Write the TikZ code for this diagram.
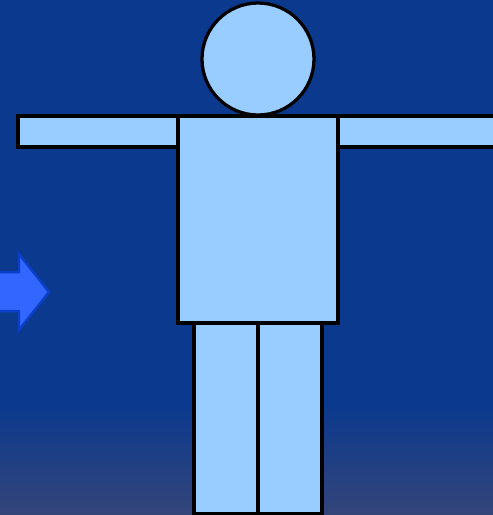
\documentclass[tikz,border=0pt]{standalone}
\begin{document}
\begin{tikzpicture}[x=0.02cm, y=-0.02cm]

\definecolor{backcolor}{RGB}{11, 57, 141}
\definecolor{floorcolor}{RGB}{52, 69, 122}
\definecolor{bodycolor}{RGB}{153, 204, 255}
\definecolor{arrowcolor}{RGB}{51, 102, 255}
\definecolor{arrowedge}{RGB}{10, 64, 200}

\tikzset{bodypart/.style={draw=black, fill=bodycolor, line width=0.065cm}}

\useasboundingbox (0, 0) rectangle (493, 515);

\fill[backcolor] (0, 0) rectangle (493, 405);
\shade[top color=backcolor, bottom color=floorcolor, shading angle=0] (0, 405) rectangle (493, 515);

% arrow at the left edge
\draw[fill=arrowcolor, draw=arrowedge, line width=0.05cm] (-5, 272) -- (19, 272) -- (19, 254) -- (49, 292) -- (19, 330) -- (19, 311) -- (-5, 311) -- cycle;

% figure
\draw[bodypart] (18, 116) rectangle (178, 147);
\draw[bodypart] (338, 116) rectangle (500, 147);
\draw[bodypart] (194, 323) rectangle (258, 514);
\draw[bodypart] (258, 323) rectangle (322, 514);
\draw[bodypart] (178, 116) rectangle (338, 323);
\draw[bodypart] (258, 59) circle [radius=56];

\end{tikzpicture}
\end{document}
